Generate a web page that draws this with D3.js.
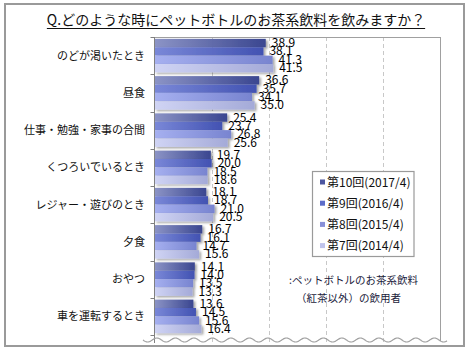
<!DOCTYPE html>
<html><head><meta charset="utf-8">
<script src="https://cdn.jsdelivr.net/npm/d3@7/dist/d3.min.js"></script>
<style>
html,body{margin:0;padding:0;background:#fff;}
svg{display:block;font-family:"Noto Sans CJK JP","Noto Sans",sans-serif;}
</style></head><body>
<script>
const title = "Q.どのような時にペットボトルのお茶系飲料を飲みますか？";
const categories = ["のどが渇いたとき","昼食","仕事・勉強・家事の合間","くつろいでいるとき","レジャー・遊びのとき","夕食","おやつ","車を運転するとき"];
const seriesNames = ["第10回(2017/4)","第9回(2016/4)","第8回(2015/4)","第7回(2014/4)"];
const s2017 = [38.9,36.6,25.4,19.7,18.1,16.7,14.1,13.6];
const s2016 = [38.1,35.7,23.7,20.0,18.7,16.1,14.0,14.5];
const s2015 = [41.3,34.1,26.8,18.5,21.0,14.7,13.5,15.6];
const s2014 = [41.5,35.0,25.6,18.6,20.5,15.6,13.3,16.4];
const seriesValues = [s2017,s2016,s2015,s2014];
const gridTicks = [20,40,60,80];
const noteLines = [":ペットボトルのお茶系飲料","（紅茶以外）の飲用者"];

(function(){
const gradStops = [["#8c94c6","#3a4690"],["#7a88d8","#4252b2"],["#a6b0f0","#7884d0"],["#d0d4f4","#a4aad8"]];
const legendColors = ["#4c56a0","#5c6cc8","#8890d8","#c0c4ec"];

const W=470,H=350;
const svg = d3.select("body").append("svg").attr("width",W).attr("height",H);
const defs = svg.append("defs");
gradStops.forEach((g,i)=>{
  const lg = defs.append("linearGradient").attr("id","g"+i).attr("x1","0").attr("x2","1").attr("y1","0").attr("y2","0");
  lg.append("stop").attr("offset","0").attr("stop-color",g[0]);
  lg.append("stop").attr("offset","1").attr("stop-color",g[1]);
});
const f = defs.append("filter").attr("id","sh").attr("x","-10%").attr("y","-30%").attr("width","130%").attr("height","180%");
f.append("feDropShadow").attr("dx",2).attr("dy",1.5).attr("stdDeviation",0.8).attr("flood-color","#000").attr("flood-opacity",0.35);

// outer frame
svg.append("rect").attr("x",5).attr("y",4).attr("width",459).attr("height",342)
  .attr("fill","none").attr("stroke","#9a9a9a").attr("stroke-width",2);

// title
const t = svg.append("text").attr("x",236).attr("y",25).attr("text-anchor","middle")
  .attr("font-size",14).attr("fill","#111").text(title);
const tb = t.node().getBBox();
svg.append("line").attr("x1",tb.x).attr("x2",tb.x+tb.width).attr("y1",28.5).attr("y2",28.5)
  .attr("stroke","#111").attr("stroke-width",1);

const pl=154.5, pr=440.5, pt=37, pb=335;
const x = d3.scaleLinear().domain([0,100]).range([pl,pr]);
const y = d3.scaleBand().domain(categories).range([pt,pb]).paddingInner(0.1).paddingOuter(0.05);
const yi = d3.scaleBand().domain(d3.range(seriesValues.length)).range([0,y.bandwidth()]);
const step = y.step();

// gridlines
svg.append("g").selectAll("line").data(gridTicks).join("line")
  .attr("x1",d=>Math.round(x(d))+0.5).attr("x2",d=>Math.round(x(d))+0.5)
  .attr("y1",pt).attr("y2",343)
  .attr("stroke","#c8c8c8").attr("stroke-dasharray","4,3");

// top & right border
svg.append("line").attr("x1",pl).attr("x2",pr).attr("y1",pt+0.5).attr("y2",pt+0.5).attr("stroke","#a0a0a0");
svg.append("line").attr("x1",pr).attr("x2",pr).attr("y1",pt).attr("y2",341).attr("stroke","#a0a0a0");

// bars
const groups = svg.append("g").selectAll("g").data(categories).join("g")
  .attr("transform",d=>`translate(0,${y(d)})`);
groups.each(function(c,ci){
  const g = d3.select(this);
  seriesValues.forEach((vals,si)=>{
    g.append("rect").attr("x",x(0)).attr("y",yi(si)).attr("width",x(vals[ci])-x(0)).attr("height",yi.bandwidth())
      .attr("fill",`url(#g${si})`).attr("filter","url(#sh)");
  });
});
groups.each(function(c,ci){
  const g = d3.select(this);
  seriesValues.forEach((vals,si)=>{
    g.append("text").attr("x",x(vals[ci])+6).attr("y",yi(si)+yi.bandwidth()/2+4)
      .attr("font-size",12).attr("fill","#000").text(vals[ci].toFixed(1));
  });
});

// category labels
svg.append("g").selectAll("text").data(categories).join("text")
  .attr("x",145).attr("y",d=>y(d)+y.bandwidth()/2+4).attr("text-anchor","end")
  .attr("font-size",11).attr("fill","#111").text(d=>d);

// left axis + category ticks
svg.append("line").attr("x1",pl).attr("x2",pl).attr("y1",pt).attr("y2",343).attr("stroke","#808080");
svg.append("g").selectAll("line").data(d3.range(categories.length+1)).join("line")
  .attr("x1",pl-4).attr("x2",pl).attr("y1",i=>Math.round(pt+i*step)+0.5).attr("y2",i=>Math.round(pt+i*step)+0.5)
  .attr("stroke","#808080");

// wavy break line
const waveData = d3.range(143,447.1,0.5);
svg.append("path").datum(waveData)
  .attr("d",d3.line().x(d=>d).y(d=>340+2*Math.sin((d-143)/18.5*2*Math.PI)))
  .attr("fill","none").attr("stroke","#a0a0a0").attr("stroke-width",1.2);

// legend
const lg = svg.append("g");
lg.append("rect").attr("x",312.5).attr("y",171.5).attr("width",101.5).attr("height",85)
  .attr("fill","#fff").attr("stroke","#9a9a9a").attr("stroke-width",1.2);
seriesNames.forEach((n,i)=>{
  const yy = 182+i*21.2;
  lg.append("rect").attr("x",320).attr("y",yy-2.5).attr("width",5).attr("height",5).attr("fill",legendColors[i]);
  lg.append("text").attr("x",327).attr("y",yy+4.5).attr("font-size",12).attr("fill","#111").text(n);
});

// note
svg.append("g").selectAll("text").data(noteLines).join("text")
  .attr("x",(d,i)=>i===0?289:296).attr("y",(d,i)=>284+i*18)
  .attr("font-size",10.5).attr("fill","#1a1a3a").text(d=>d);
})();
</script>
</body></html>
